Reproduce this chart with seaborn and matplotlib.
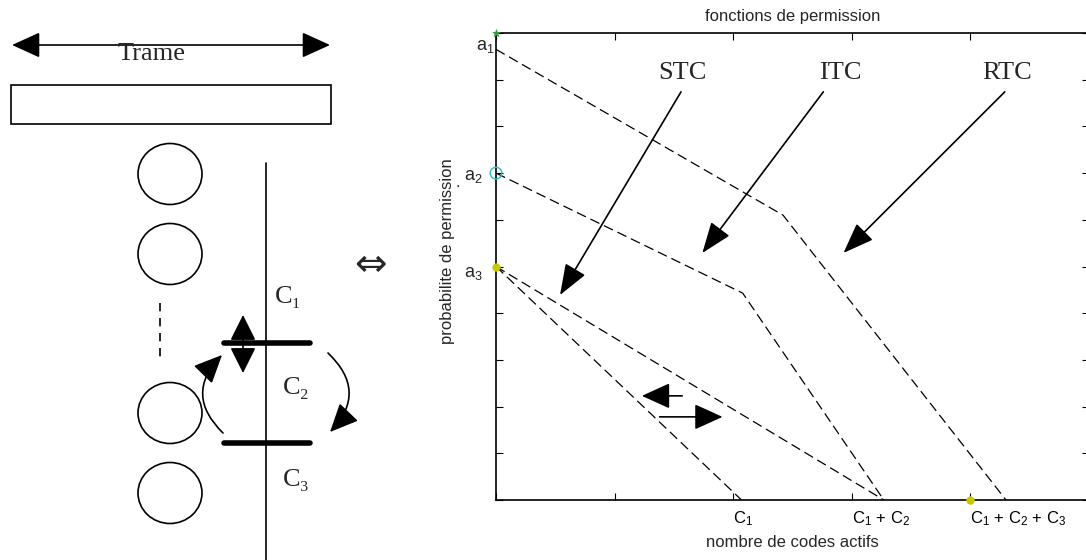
import numpy as np
import pandas as pd
import matplotlib
matplotlib.use("Agg")
import matplotlib.pyplot as plt
import matplotlib.transforms as mtransforms
from matplotlib.patches import Ellipse, Rectangle, FancyArrowPatch
import seaborn as sns

sns.set_style("ticks")
plt.rcParams["font.family"] = ["Liberation Sans", "DejaVu Sans"]
plt.rcParams["mathtext.fontset"] = "custom"
plt.rcParams["mathtext.rm"] = "Liberation Sans"
plt.rcParams["mathtext.it"] = "Liberation Sans:italic"
plt.rcParams["mathtext.bf"] = "Liberation Sans:bold"
plt.rcParams["xtick.direction"] = "in"
plt.rcParams["ytick.direction"] = "in"

# ---------------- data ----------------
x_rtc = [0.0, 2.42, 4.30]
y_rtc = [0.965, 0.61, 0.0]
x_itc = [0.0, 2.08, 3.27]
y_itc = [0.70, 0.443, 0.0]
x_stc_hi = [0.0, 3.27]
y_stc_hi = [0.50, 0.0]
x_stc_lo = [0.0, 2.07]
y_stc_lo = [0.50, 0.0]

xtick_pos = [0, 1, 2, 3, 4, 5]
xtick_labels = ["", "", "C$_1$", "C$_1$ $+$ C$_2$", "C$_1$ $+$ C$_2$ $+$ C$_3$", ""]
ytick_pos = [0.0, 0.1, 0.2, 0.3, 0.4, 0.5, 0.6, 0.7, 0.8, 0.9, 1.0]
a_labels = ["a$_1$", "a$_2$", "a$_3$"]
a_label_y = [0.972, 0.692, 0.486]
curve_names = ["STC", "ITC", "RTC"]

# markers (MATLAB leftovers)
cyan_x, cyan_y = [0.0], [0.70]
yellow_x, yellow_y = [0.0, 4.0], [0.50, 0.0]
green_x, green_y = [0.0, 4.0, 5.0], [1.0, 0.0, 0.0]

W, H = 1086, 560
fig = plt.figure(figsize=(W / 100, H / 100), dpi=100)

# ---------------- left schematic (pixel coords) ----------------
ax0 = fig.add_axes([0, 0, 1, 1])
ax0.set_xlim(0, W)
ax0.set_ylim(H, 0)
ax0.axis("off")
serif = ["Liberation Serif", "DejaVu Serif"]

ax0.add_patch(FancyArrowPatch((12, 45), (330, 45),
              arrowstyle="<|-|>,head_length=1.1,head_width=0.5",
              mutation_scale=16, lw=1.2, color="black", shrinkA=0, shrinkB=0))
ax0.text(152, 54, "Trame", family=serif, fontsize=19, ha="center", va="center")
ax0.add_patch(Rectangle((11, 85), 320, 39, fill=False, lw=1.2, ec="black"))

for cy in [174, 254, 413, 493]:
    ax0.add_patch(Ellipse((170, cy), 64, 61, fill=False, lw=1.2, ec="black"))
ax0.plot([160, 160], [303, 363], color="black", lw=1.2, ls=(0, (5, 4)))
ax0.plot([266, 266], [163, 560], color="black", lw=1.2)
ax0.plot([224, 310], [343, 343], color="black", lw=4)
ax0.plot([224, 310], [443, 443], color="black", lw=4)
ax0.text(288, 297, "C₁", family=serif, fontsize=19, ha="center", va="center")
ax0.text(296, 388, "C₂", family=serif, fontsize=19, ha="center", va="center")
ax0.text(296, 480, "C₃", family=serif, fontsize=19, ha="center", va="center")

ax0.add_patch(FancyArrowPatch((243, 315), (243, 373),
              arrowstyle="<|-|>,head_length=1.0,head_width=0.5",
              mutation_scale=16, lw=1.2, color="black", shrinkA=0, shrinkB=0))
ax0.add_patch(FancyArrowPatch((223, 433), (222, 355),
              connectionstyle="arc3,rad=-0.5",
              arrowstyle="-|>,head_length=1.1,head_width=0.5",
              mutation_scale=16, lw=1.2, color="black", shrinkA=0, shrinkB=0))
ax0.add_patch(FancyArrowPatch((328, 353), (330, 432),
              connectionstyle="arc3,rad=-0.5",
              arrowstyle="-|>,head_length=1.1,head_width=0.5",
              mutation_scale=16, lw=1.2, color="black", shrinkA=0, shrinkB=0))
ax0.text(370, 265, "⇔", family=["DejaVu Sans"], fontsize=28, ha="center", va="center")

# ---------------- right chart ----------------
ax = fig.add_axes([496 / W, (H - 500) / H, 593 / W, 467 / H])
dash = (0, (8, 4))
for xs, ys in [(x_rtc, y_rtc), (x_itc, y_itc), (x_stc_hi, y_stc_hi), (x_stc_lo, y_stc_lo)]:
    df = pd.DataFrame({"x": xs, "y": ys})
    sns.lineplot(data=df, x="x", y="y", sort=False, ax=ax, color="black",
                 lw=0.9, linestyle=dash, clip_on=False)

sns.scatterplot(x=green_x, y=green_y, ax=ax, marker="*", s=30, color="#3a9a3a",
                edgecolor="#3a9a3a", linewidth=0.5, clip_on=False, zorder=5)
sns.scatterplot(x=yellow_x, y=yellow_y, ax=ax, marker="o", s=30, color="#c8c800",
                edgecolor="#c8c800", clip_on=False, zorder=6)
sns.scatterplot(x=cyan_x, y=cyan_y, ax=ax, marker="o", s=70, facecolor="none",
                edgecolor="#22c0c0", linewidth=1.0, clip_on=False, zorder=6)

ax.set_xlim(0, 5)
ax.set_ylim(0, 1)
ax.set_xticks(xtick_pos)
ax.set_xticklabels(xtick_labels, fontsize=12)
off = mtransforms.ScaledTranslation(-5 / 100, 0, fig.dpi_scale_trans)
for lab in ax.get_xticklabels():
    lab.set_horizontalalignment("left")
    lab.set_transform(lab.get_transform() + off)
ax.set_yticks(ytick_pos)
ax.set_yticklabels([])
ax.tick_params(axis="both", which="both", direction="in", length=5, width=0.8,
               top=True, right=True, colors="black", pad=7)
for s in ax.spines.values():
    s.set_visible(True)
    s.set_linewidth(1.2)
    s.set_color("black")

ax.set_title("fonctions de permission", fontsize=12, pad=9)
ax.set_xlabel("nombre de codes actifs", fontsize=12, labelpad=5)
ax.set_ylabel("")
ax.text(-0.0826, 0.532, "probabilite de permission", transform=ax.transAxes,
        rotation=90, ha="center", va="center", fontsize=12)

ytr = ax.get_yaxis_transform()
ax.text(-0.002, a_label_y[0], a_labels[0], transform=ytr, ha="right", va="center", fontsize=13)
ax.text(-0.022, a_label_y[1], a_labels[1], transform=ytr, ha="right", va="center", fontsize=13)
ax.text(-0.064, a_label_y[1] - 0.012, ".", transform=ytr, ha="center", va="center", fontsize=12)
ax.text(-0.022, a_label_y[2], a_labels[2], transform=ytr, ha="right", va="center", fontsize=13)

# curve labels with arrows
label_pos = [(1.57, 0.914), (2.90, 0.914), (4.31, 0.914)]
arrow_from = [(1.56, 0.874), (2.76, 0.874), (4.29, 0.874)]
arrow_to = [(0.54, 0.439), (1.74, 0.529), (2.93, 0.529)]
for name, lp, af, at in zip(curve_names, label_pos, arrow_from, arrow_to):
    ax.text(lp[0], lp[1], name, family=serif, fontsize=19, ha="center", va="center")
    ax.annotate("", xy=at, xytext=af,
                arrowprops=dict(arrowstyle="-|>,head_length=1.2,head_width=0.45",
                                mutation_scale=16, lw=1.2, color="black",
                                shrinkA=0, shrinkB=0))

ax.annotate("", xy=(1.23, 0.223), xytext=(1.57, 0.223),
            arrowprops=dict(arrowstyle="-|>,head_length=1.1,head_width=0.5",
                            mutation_scale=16, lw=1.2, color="black", shrinkA=0, shrinkB=0))
ax.annotate("", xy=(1.91, 0.178), xytext=(1.38, 0.178),
            arrowprops=dict(arrowstyle="-|>,head_length=1.1,head_width=0.5",
                            mutation_scale=16, lw=1.2, color="black", shrinkA=0, shrinkB=0))

fig.savefig("out.png", dpi=100)
